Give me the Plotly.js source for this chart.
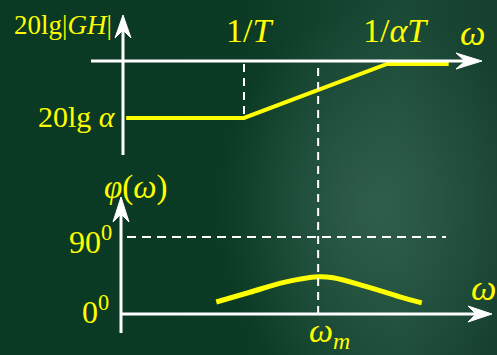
<!DOCTYPE html>
<html>
<head>
<meta charset="utf-8">
<script src="https://cdn.plot.ly/plotly-3.0.1.min.js"></script>
<style>
  html, body { margin: 0; padding: 0; }
  body {
    width: 497px; height: 355px; overflow: hidden;
    background:
      radial-gradient(ellipse 160px 200px at 76% 58%, rgba(52,98,80,0.85), rgba(52,98,80,0) 100%),
      linear-gradient(90deg, #0a3a23 0%, #0b3b24 50%, #1a4a36 80%, #163f2e 100%);
  }
  #chart { width: 497px; height: 355px; }
</style>
</head>
<body>
<div id="chart"></div>
<script>
// Lead network asymptotic Bode sketch (1/T = 1, 1/(alpha T) = 10)
const omegaMag = [0.15, 1, 10, 27];          // rad/s
const magDb    = [-20, -20, 0, 0];           // 20lg|GH|, dB

const omegaPhase = [0.64, 1.1, 1.9, 3.3, 4.2, 7.2, 12.3, 17.5];
const phaseDeg   = [14, 25.4, 37, 43.6, 42.4, 32, 20, 13];

const cornerLow  = 1;     // 1/T
const cornerHigh = 10;    // 1/(alpha T)
const omegaM     = 3.3;   // frequency of maximum lead
const phaseRef   = 90;    // 90 degree reference

const tickLabels = {
  mag: '20lg|<i>GH</i>|',
  alpha: '20lg <i>α</i>',
  low: '1/<i>T</i>',
  high: '1/<i>αT</i>',
  phi: '<i>φ</i>(<i>ω</i>)',
  p90: '90<sup>0</sup>',
  p0: '0<sup>0</sup>',
  w: '<i>ω</i>',
  wm: '<i>ω<sub>m</sub></i>'
};

const W = 497, H = 355;
const px = v => v / W;
const py = v => 1 - v / H;
const yellow = '#ffff00';
const white = '#ffffff';
const serif = 'Liberation Serif, Times New Roman, serif';

const traces = [
  { x: omegaMag, y: magDb, xaxis: 'x', yaxis: 'y', mode: 'lines',
    line: { color: yellow, width: 4 }, hoverinfo: 'skip' },
  { x: [cornerLow, cornerLow], y: [0, magDb[0]], xaxis: 'x', yaxis: 'y', mode: 'lines',
    line: { color: white, width: 2, dash: '8px,6px' }, hoverinfo: 'skip' },
  { x: omegaPhase, y: phaseDeg, xaxis: 'x', yaxis: 'y2', mode: 'lines',
    line: { color: yellow, width: 5, shape: 'spline', smoothing: 1 }, hoverinfo: 'skip' }
];

// Axis with a swept arrowhead, given in pixels from the top-left corner.
// dir: 'right' or 'up'
function axisShapes(x0, y0, tipX, tipY, dir, len, half, notch) {
  let pts;
  let lineEnd;
  if (dir === 'right') {
    pts = [[tipX, tipY], [tipX - len, tipY - half], [tipX - len + notch, tipY], [tipX - len, tipY + half]];
    lineEnd = [tipX - len + notch + 1, tipY];
  } else {
    pts = [[tipX, tipY], [tipX - half, tipY + len], [tipX, tipY + len - notch], [tipX + half, tipY + len]];
    lineEnd = [tipX, tipY + len - notch - 1];
  }
  const d = 'M ' + pts.map(p => px(p[0]) + ',' + py(p[1])).join(' L ') + ' Z';
  return [
    { type: 'line', xref: 'paper', yref: 'paper', x0: px(x0), y0: py(y0),
      x1: px(lineEnd[0]), y1: py(lineEnd[1]), line: { color: white, width: 3 } },
    { type: 'path', xref: 'paper', yref: 'paper', path: d,
      fillcolor: white, line: { color: white, width: 1 } }
  ];
}

function label(text, x, y, size, anchor) {
  return {
    xref: 'paper', yref: 'paper', x: px(x), y: py(y),
    text: text, showarrow: false, xanchor: anchor || 'center', yanchor: 'middle',
    font: { family: serif, size: size, color: yellow }
  };
}

const layout = {
  width: W, height: H, autosize: false,
  margin: { l: 0, r: 0, t: 0, b: 0 },
  paper_bgcolor: 'rgba(0,0,0,0)', plot_bgcolor: 'rgba(0,0,0,0)',
  showlegend: false,
  xaxis: { type: 'log', range: [-1.7063, 1.7692], visible: false, fixedrange: true },
  yaxis: { range: [-107.78, 23.70], visible: false, fixedrange: true },
  yaxis2: { range: [-47.92, 367.0], visible: false, overlaying: 'y', fixedrange: true },
  shapes: [
    { type: 'line', xref: 'x', yref: 'paper', x0: omegaM, x1: omegaM,
      y0: py(314), y1: py(61), line: { color: white, width: 2, dash: '8px,6px' } },
    { type: 'line', xref: 'paper', yref: 'y2', x0: px(127), x1: px(446),
      y0: phaseRef, y1: phaseRef, line: { color: white, width: 2, dash: '9px,6px' } },
    ...axisShapes(91, 61, 482, 61, 'right', 26, 8, 9),
    ...axisShapes(123, 155, 123, 15, 'up', 23, 8, 8),
    ...axisShapes(121, 314, 492, 314, 'right', 24, 8, 8),
    ...axisShapes(121, 333, 121, 197, 'up', 25, 8, 8)
  ],
  annotations: [
    label(tickLabels.mag, 63, 25, 27),
    label(tickLabels.alpha, 77, 116, 30),
    label(tickLabels.low, 250, 30, 34),
    label(tickLabels.high, 395, 30, 34),
    label(tickLabels.w, 472, 33, 36),
    label(tickLabels.phi, 136, 187, 33),
    label(tickLabels.p90, 90, 240, 32),
    label(tickLabels.p0, 95, 310, 32),
    label(tickLabels.w, 483, 288, 36),
    label(tickLabels.wm, 329, 333, 34)
  ]
};

Plotly.newPlot('chart', traces, layout, { staticPlot: true, displayModeBar: false });
</script>
</body>
</html>
